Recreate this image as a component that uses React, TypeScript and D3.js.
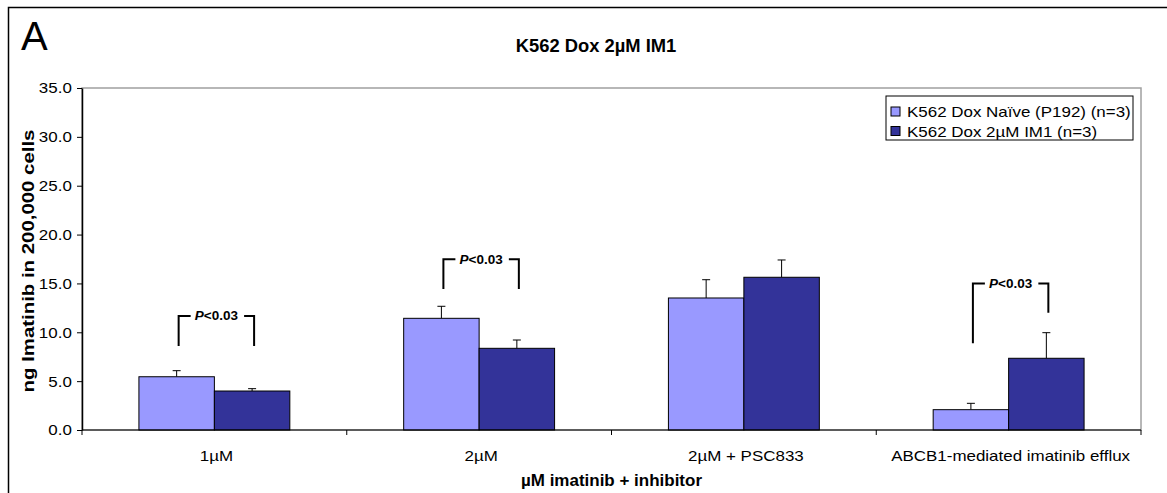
import * as d3 from 'd3';
import React, { useEffect, useRef } from 'react';

const categories = ['1µM', '2µM', '2µM + PSC833', 'ABCB1-mediated imatinib efflux'];
const seriesNames = ['K562 Dox Naïve (P192) (n=3)', 'K562 Dox 2µM IM1 (n=3)'];
const naiveValues = [5.45, 11.43, 13.51, 2.08];
const naiveErrors = [0.62, 1.23, 1.87, 0.65];
const im1Values = [3.99, 8.36, 15.63, 7.34];
const im1Errors = [0.24, 0.85, 1.77, 2.62];
const yTicks = [0, 5, 10, 15, 20, 25, 30, 35];
// significance brackets: category index, top of bracket, left leg end, right leg end
const brackets = [
  { cat: 0, top: 11.67, left: 8.6, right: 8.6, label: '<0.03' },
  { cat: 1, top: 17.47, left: 14.43, right: 14.43, label: '<0.03' },
  { cat: 3, top: 15.0, left: 8.87, right: 12.0, label: '<0.03' },
];

const colors = ['#9999ff', '#333399'];
const font = 'Arial, "Liberation Sans", sans-serif';
const SX = 1.13; // excel-ish wide small text

export default function App() {
  const ref = useRef<SVGSVGElement>(null);

  useEffect(() => {
    const svg = d3.select(ref.current);
    svg.selectAll('*').remove();

    const margin = { left: 82, right: 1141, top: 88, bottom: 430 };

    const x = d3.scaleBand().domain(categories).range([margin.left, margin.right]);
    const y = d3.scaleLinear().domain([0, 35]).range([margin.bottom, margin.top]);
    const groupWidth = x.bandwidth() * 0.57;
    const barW = groupWidth / 2;

    const label = (px: number, py: number, txt: string, size: number, opts: any = {}) => {
      const t = svg.append('text')
        .attr('transform', `translate(${px},${py}) ${opts.rotate ? 'rotate(-90)' : ''} scale(${opts.sx || 1},1)`)
        .attr('text-anchor', opts.anchor || 'start')
        .style('font-family', font).style('font-size', size + 'px')
        .style('font-weight', opts.bold ? 'bold' : 'normal')
        .text(txt);
      return t;
    };

    // outer frame
    svg.append('rect')
      .attr('x', 8.5).attr('y', 7.5).attr('width', 1200).attr('height', 600)
      .attr('fill', 'white').attr('stroke', '#000').attr('stroke-width', 1.5);

    // plot area
    svg.append('rect')
      .attr('x', margin.left).attr('y', margin.top)
      .attr('width', margin.right - margin.left).attr('height', margin.bottom - margin.top)
      .attr('fill', 'none').attr('stroke', '#a0a0a0').attr('stroke-width', 1.5);

    label(21, 50, 'A', 40);
    label(596, 52, 'K562 Dox 2µM IM1', 18, { anchor: 'middle', bold: true, sx: 1.02 });

    // bars
    const series = [
      { vals: naiveValues, errs: naiveErrors },
      { vals: im1Values, errs: im1Errors },
    ];
    series.forEach((s, si) => {
      const g = svg.append('g');
      categories.forEach((c, i) => {
        const bx = (x(c) as number) + x.bandwidth() / 2 - barW + si * barW;
        const cx = bx + barW / 2;
        const top = y(s.vals[i] + s.errs[i]);
        g.append('line')
          .attr('x1', cx).attr('x2', cx)
          .attr('y1', y(s.vals[i])).attr('y2', top)
          .attr('stroke', '#000').attr('stroke-width', 1);
        g.append('line')
          .attr('x1', cx - 4).attr('x2', cx + 4)
          .attr('y1', top).attr('y2', top)
          .attr('stroke', '#000').attr('stroke-width', 1);
        g.append('rect')
          .attr('x', bx).attr('y', y(s.vals[i]))
          .attr('width', barW).attr('height', y(0) - y(s.vals[i]))
          .attr('fill', colors[si]).attr('stroke', '#000').attr('stroke-width', 1);
      });
    });

    // brackets
    brackets.forEach(b => {
      const c = categories[b.cat];
      const lx = (x(c) as number) + x.bandwidth() / 2 - barW / 2 + 2;
      const rx = lx + barW;
      const mid = (lx + rx) / 2;
      const g = svg.append('g').attr('stroke', '#000').attr('stroke-width', 2).attr('fill', 'none');
      g.append('path').attr('d', `M${lx},${y(b.left)}V${y(b.top)}H${lx + 12}`);
      g.append('path').attr('d', `M${rx},${y(b.right)}V${y(b.top)}H${rx - 10}`);
      const t = svg.append('text')
        .attr('transform', `translate(${mid},${y(b.top) + 4.5}) scale(1.08,1)`)
        .attr('text-anchor', 'middle')
        .style('font-family', font).style('font-size', '12.5px').style('font-weight', 'bold');
      t.append('tspan').style('font-style', 'italic').text('P');
      t.append('tspan').text(b.label);
    });

    // y axis
    const yAxis = svg.append('g')
      .attr('transform', `translate(${margin.left},0)`)
      .call(d3.axisLeft(y).tickValues(yTicks).tickSize(5).tickSizeOuter(0).tickFormat(d3.format('.1f')));
    yAxis.select('.domain').attr('stroke', '#000').attr('stroke-width', 1.5);
    yAxis.selectAll('.tick line').attr('stroke', '#000');
    yAxis.selectAll('.tick text')
      .attr('x', -9).attr('dy', '0.33em').attr('transform', `scale(${SX},1)`)
      .style('font-family', font).style('font-size', '15px').attr('fill', '#000');

    // x axis
    const xAxis = svg.append('g').attr('transform', `translate(0,${margin.bottom})`);
    xAxis.append('line')
      .attr('x1', margin.left).attr('x2', margin.right)
      .attr('stroke', '#000').attr('stroke-width', 1.2);
    const boundaries = categories.map(c => x(c) as number).concat([margin.right]);
    boundaries.forEach(bx => {
      xAxis.append('line').attr('x1', bx).attr('x2', bx).attr('y1', 0).attr('y2', 5)
        .attr('stroke', '#000');
    });
    categories.forEach(c => {
      label((x(c) as number) + x.bandwidth() / 2 + 2, margin.bottom + 31, c, 15, { anchor: 'middle', sx: SX });
    });

    label((margin.left + margin.right) / 2, 486, 'µM imatinib + inhibitor', 16.5, { anchor: 'middle', bold: true, sx: 1.03 });
    label(34, 261, 'ng Imatinib in 200,000 cells', 17, { anchor: 'middle', bold: true, rotate: true, sx: 1.2 });

    // legend
    const lx0 = 886, ly0 = 96;
    svg.append('rect').attr('x', lx0).attr('y', ly0).attr('width', 247).attr('height', 44)
      .attr('fill', 'white').attr('stroke', '#000').attr('stroke-width', 1);
    seriesNames.forEach((n, i) => {
      svg.append('rect')
        .attr('x', lx0 + 5).attr('y', ly0 + 11 + i * 19.5).attr('width', 9).attr('height', 9)
        .attr('fill', colors[i]).attr('stroke', '#000').attr('stroke-width', 1);
      label(lx0 + 21, ly0 + 21 + i * 19.5, n, 15, { sx: SX });
    });
  }, []);

  return (
    <svg ref={ref} width={1167} height={493}
      style={{ position: 'absolute', left: 0, top: 0, background: 'white' }} />
  );
}
